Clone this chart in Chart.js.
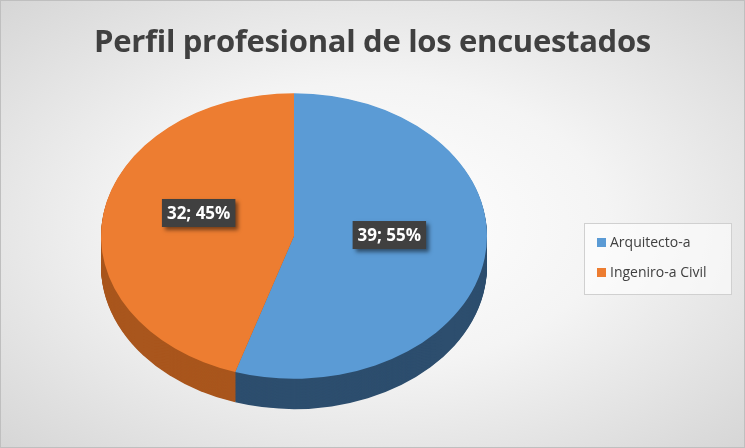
<!DOCTYPE html>
<html><head><meta charset="utf-8">
<script src="https://cdn.jsdelivr.net/npm/chart.js@4"></script>
<style>
body{margin:0;}
#wrap{position:relative;width:743px;height:446px;border:1px solid #bfbfbf;background:radial-gradient(ellipse at 50% 50%,#ffffff 0%,#f4f4f4 45%,#d6d6d6 100%);font-family:Calibri,Carlito,"Open Sans",sans-serif;}
#title{position:absolute;left:0;width:743px;top:18px;text-align:center;font-size:31px;font-weight:bold;color:#404040;font-family:"Open Sans",sans-serif;letter-spacing:-0.3px}
#cv{position:absolute;left:0;top:0;}
#legend{position:absolute;left:583px;top:222px;width:146px;height:70px;background:rgba(255,255,255,0.6);border:1px solid #d0d0d0;font-family:"Open Sans",sans-serif;font-size:14px;color:#404040}
.it{position:absolute;left:12px;}
.sw{display:inline-block;width:9px;height:9px;margin-right:4px;}
</style></head><body>
<div id="wrap">
<canvas id="cv" width="586" height="446"></canvas>
<div id="title">Perfil profesional de los encuestados</div>
<div id="legend">
<div class="it" style="top:8px"><span class="sw" style="background:#5B9BD5"></span>Arquitecto-a</div>
<div class="it" style="top:38px"><span class="sw" style="background:#ED7D31"></span>Ingeniro-a Civil</div>
</div>
</div>
<script>
const categories=["Arquitecto-a","Ingeniro-a Civil"];
const values=[39,32];
const colors=["#5B9BD5","#ED7D31"];
const sideColors=["#2D4E6E","#A9561D"];
const SY=0.74, DEPTH=30;
const threeD={id:'threeD',
beforeDatasetsDraw(chart){
  const ctx=chart.ctx, meta=chart.getDatasetMeta(0);
  const a0=meta.data[0]; const cx=a0.x, cy=a0.y, r=a0.outerRadius;
  ctx.save();
  ctx.translate(cx,cy);ctx.scale(1,SY);ctx.translate(-cx,-cy);
  for(let s=Math.round(DEPTH/SY);s>0;s-=1){
    meta.data.forEach((a,i)=>{
      ctx.beginPath();ctx.moveTo(cx,cy+s);ctx.arc(cx,cy+s,r,a.startAngle,a.endAngle);ctx.closePath();
      ctx.fillStyle=sideColors[i];ctx.fill();
    });
  }
},
afterDatasetsDraw(chart){
  chart.ctx.restore();
  const ctx=chart.ctx, meta=chart.getDatasetMeta(0);
  const tot=values.reduce((a,b)=>a+b,0);
  meta.data.forEach((a,i)=>{
    const p=a.tooltipPosition();
    const x=p.x, y=a.y+(p.y-a.y)*SY-12;
    const t=values[i]+"; "+Math.round(values[i]/tot*100)+"%";
    ctx.font="bold 17px 'Open Sans',sans-serif";
    const w=ctx.measureText(t).width+10;
    ctx.save();ctx.shadowColor="rgba(0,0,0,0.5)";ctx.shadowOffsetX=3;ctx.shadowOffsetY=3;ctx.shadowBlur=4;
    ctx.fillStyle="#404040";ctx.fillRect(x-w/2,y-14,w,28);ctx.restore();
    ctx.fillStyle="#fff";ctx.textAlign="center";ctx.textBaseline="middle";ctx.fillText(t,x,y+1);
  });
}};
new Chart(document.getElementById('cv'),{type:'pie',
data:{labels:categories,datasets:[{data:values,backgroundColor:colors,borderWidth:0}]},
options:{responsive:false,animation:false,layout:{padding:{top:42,bottom:18}},
plugins:{legend:{display:false},tooltip:{enabled:false}}},
plugins:[threeD]});
</script>
</body></html>
